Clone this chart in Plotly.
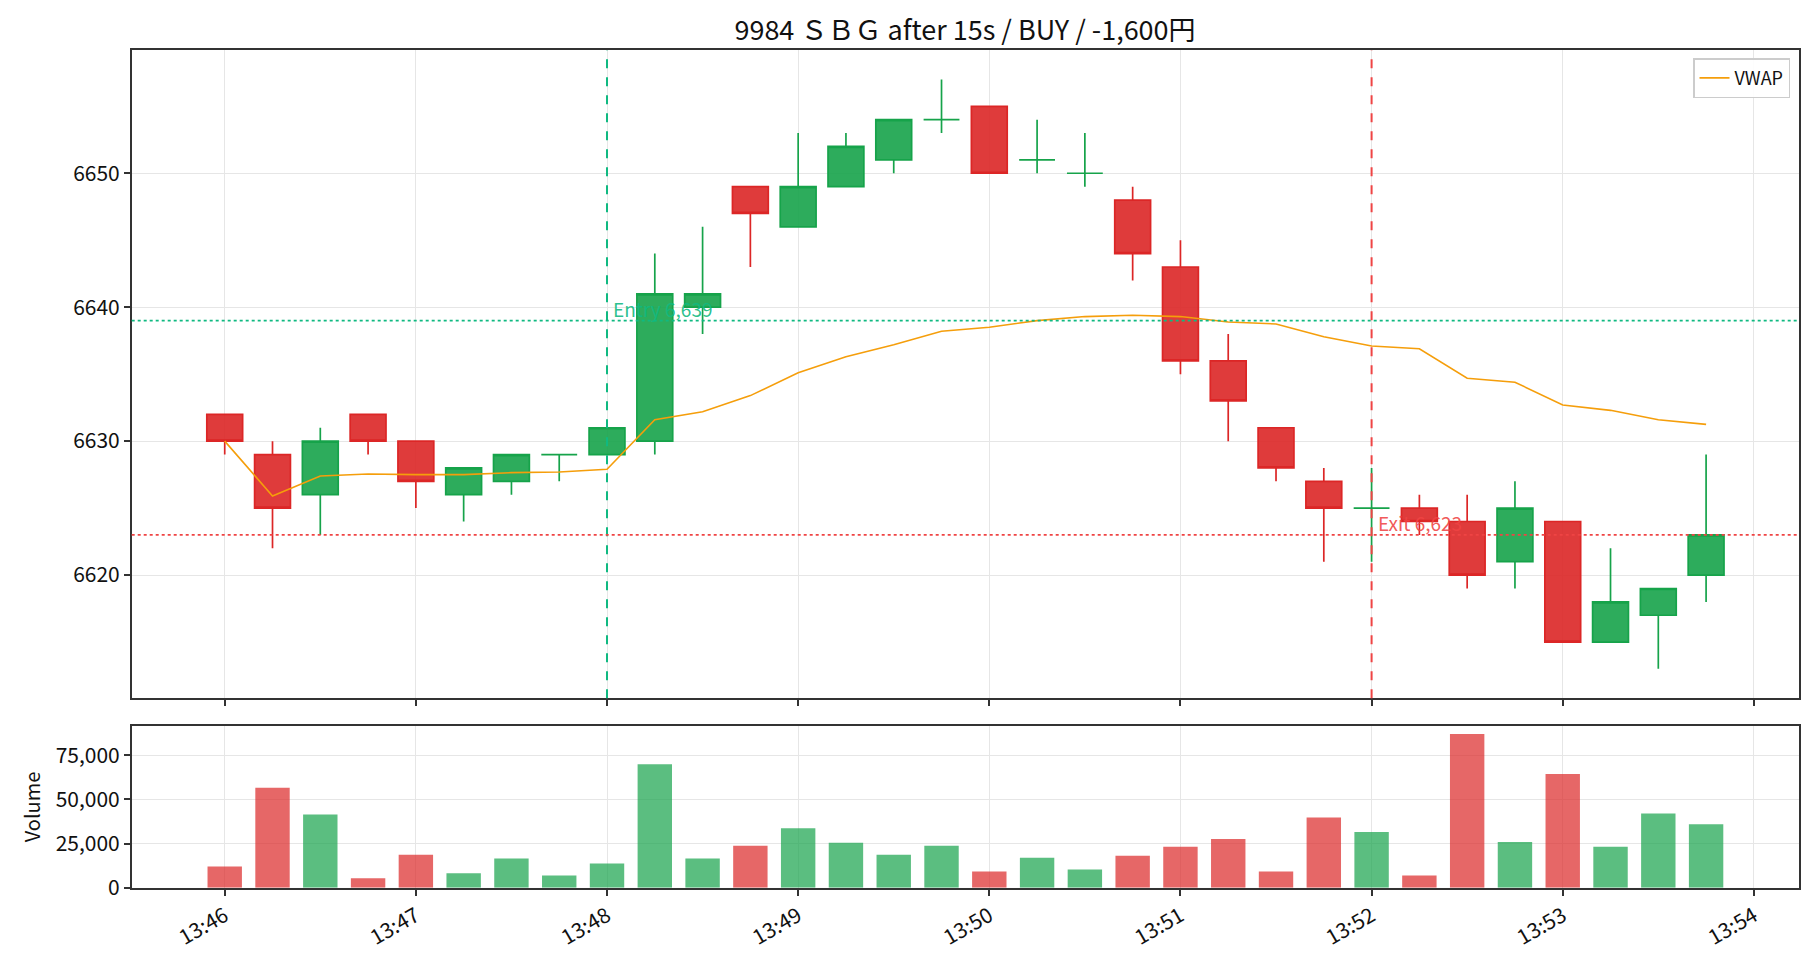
import plotly.graph_objects as go
import pandas as pd

# ---- data ----
start_time = "2025-01-06 13:46:00"
n_bars = 32
open_ = [6632, 6629, 6626, 6632, 6630, 6626, 6627, 6629, 6629, 6630, 6640, 6649, 6646, 6649, 6651, 6654,
         6655, 6651, 6650, 6648, 6643, 6636, 6631, 6627, 6625, 6625, 6624, 6621, 6624, 6615, 6617, 6620]
high = [6632, 6630, 6631, 6632, 6630, 6628, 6629, 6629, 6631, 6644, 6646, 6649, 6653, 6653, 6654, 6657,
        6655, 6654, 6653, 6649, 6645, 6638, 6631, 6628, 6628, 6626, 6626, 6627, 6624, 6622, 6619, 6629]
low = [6629, 6622, 6623, 6629, 6625, 6624, 6626, 6627, 6629, 6629, 6638, 6643, 6646, 6649, 6650, 6653,
       6650, 6650, 6649, 6642, 6635, 6630, 6627, 6621, 6621, 6623, 6619, 6619, 6615, 6615, 6613, 6618]
close = [6630, 6625, 6630, 6630, 6627, 6628, 6629, 6629, 6631, 6641, 6641, 6647, 6649, 6652, 6654, 6654,
         6650, 6651, 6650, 6644, 6636, 6633, 6628, 6625, 6625, 6624, 6620, 6625, 6615, 6618, 6619, 6623]
volume = [12000, 56500, 41500, 5400, 18700, 8150, 16500, 7000, 13700, 69800, 16500, 23700, 33700, 25400,
          18700, 23700, 9260, 17000, 10400, 18150, 23150, 27600, 9260, 39800, 31500, 7000, 87000, 25900,
          64300, 23150, 42000, 35900]
vwap = [6630.0, 6625.9, 6627.4, 6627.55, 6627.5, 6627.5, 6627.65, 6627.7, 6627.9, 6631.6, 6632.2, 6633.4,
        6635.1, 6636.3, 6637.2, 6638.2, 6638.5, 6639.0, 6639.3, 6639.4, 6639.3, 6638.9, 6638.75, 6637.8,
        6637.1, 6636.9, 6634.7, 6634.4, 6632.7, 6632.3, 6631.6, 6631.25]
entry_time = "2025-01-06 13:48:00"
entry_price = 6639
exit_time = "2025-01-06 13:52:00"
exit_price = 6623
title_text = "9984 ＳＢＧ after 15s / BUY / -1,600円"
vol_ticks = [0, 25000, 50000, 75000]

times = pd.date_range(start_time, periods=n_bars, freq="15s")

RED = "#dc2626"
GREEN = "#16a34a"
RED_FILL = "rgba(220,38,38,0.9)"
GREEN_FILL = "rgba(22,163,74,0.9)"
FONT = "Noto Sans CJK JP"

df = pd.DataFrame(dict(t=times, o=open_, h=high, l=low, c=close, v=volume))
up = df[df.c >= df.o]
down = df[df.c < df.o]

fig = go.Figure()

for sub, col, fill in [(up, GREEN, GREEN_FILL), (down, RED, RED_FILL)]:
    style = dict(fillcolor=fill, line=dict(color=col, width=1.7))
    fig.add_trace(go.Candlestick(
        x=sub.t, open=sub.o, high=sub.h, low=sub.l, close=sub.c,
        increasing=style, decreasing=style,
        whiskerwidth=0, showlegend=False, xaxis="x", yaxis="y", name="price",
    ))

fig.add_trace(go.Scatter(
    x=times, y=vwap, mode="lines", name="VWAP",
    line=dict(color="#f59e0b", width=1.6), xaxis="x", yaxis="y",
))

vol_colors = ["rgba(220,38,38,0.7)" if c < o else "rgba(22,163,74,0.7)" for o, c in zip(open_, close)]
fig.add_trace(go.Bar(
    x=times, y=volume, marker=dict(color=vol_colors, line=dict(width=0)),
    width=15000 * 0.72, showlegend=False, xaxis="x2", yaxis="y2", name="Volume",
))

x_range = [pd.Timestamp(start_time) - pd.Timedelta(seconds=29.2),
           pd.Timestamp(start_time) + pd.Timedelta(seconds=8 * 60 + 14.1)]

axis_common = dict(
    showline=True, linecolor="#333333", linewidth=1.5, mirror=True,
    ticks="outside", ticklen=6, tickwidth=1.5, tickcolor="#333333",
    showgrid=True, gridcolor="#e6e6e6", gridwidth=1, zeroline=False,
    tickfont=dict(family=FONT, size=21, color="#111111"),
)
x_dom = [131.7 / 1820, 1798.8 / 1820]

fig.update_layout(
    width=1820, height=980,
    margin=dict(l=0, r=0, t=0, b=0),
    paper_bgcolor="white", plot_bgcolor="white",
    font=dict(family=FONT, color="#111111"),
    boxgap=0.25, boxgroupgap=0,
    title=dict(text=title_text, x=965 / 1820, xanchor="center", y=1 - 31 / 980, yanchor="middle",
               font=dict(family=FONT, size=27, color="#111111")),
    xaxis=dict(domain=x_dom, anchor="y", range=x_range, type="date",
               tick0=start_time, dtick=60000, showticklabels=False,
               rangeslider=dict(visible=False), **axis_common),
    xaxis2=dict(domain=x_dom, anchor="y2", matches="x", type="date",
                tick0=start_time, dtick=60000, tickformat="%H:%M", tickangle=-30,
                **axis_common),
    yaxis=dict(domain=[1 - 707.7 / 980, 1 - 50.7 / 980], anchor="x",
               range=[6610.8, 6659.2], dtick=10, **axis_common),
    yaxis2=dict(domain=[1 - 899.7 / 980, 1 - 736 / 980], anchor="x2",
                range=[0, max(volume) * 1.05], tickvals=vol_ticks, tickformat=",",
                title=dict(text="Volume", font=dict(family=FONT, size=20), standoff=10),
                **axis_common),
    legend=dict(x=1790 / 1820, xanchor="right", y=1 - 59 / 980, yanchor="top",
                bgcolor="rgba(255,255,255,0.9)", bordercolor="#cccccc", borderwidth=1.5,
                font=dict(family=FONT, size=18, color="#111111")),
    showlegend=True,
)

# entry / exit markers
fig.add_shape(type="line", xref="x", yref="y domain", x0=entry_time, x1=entry_time, y0=0, y1=1,
              line=dict(color="#10b981", width=2, dash="dash"))
fig.add_shape(type="line", xref="x domain", yref="y", x0=0, x1=1, y0=entry_price, y1=entry_price,
              line=dict(color="#10b981", width=1.6, dash="dot"))
fig.add_shape(type="line", xref="x", yref="y domain", x0=exit_time, x1=exit_time, y0=0, y1=1,
              line=dict(color="#ef4444", width=2, dash="dash"))
fig.add_shape(type="line", xref="x domain", yref="y", x0=0, x1=1, y0=exit_price, y1=exit_price,
              line=dict(color="#ef4444", width=1.6, dash="dot"))

fig.add_annotation(x=entry_time, y=entry_price, xref="x", yref="y", text=f"Entry {entry_price:,}",
                   showarrow=False, xanchor="left", yanchor="bottom", xshift=4, yshift=-3,
                   font=dict(family=FONT, size=19, color="rgba(16,185,129,0.9)"))
fig.add_annotation(x=exit_time, y=exit_price, xref="x", yref="y", text=f"Exit {exit_price:,}",
                   showarrow=False, xanchor="left", yanchor="bottom", xshift=4, yshift=-3,
                   font=dict(family=FONT, size=19, color="rgba(239,68,68,0.9)"))

fig.write_html("out.html")
